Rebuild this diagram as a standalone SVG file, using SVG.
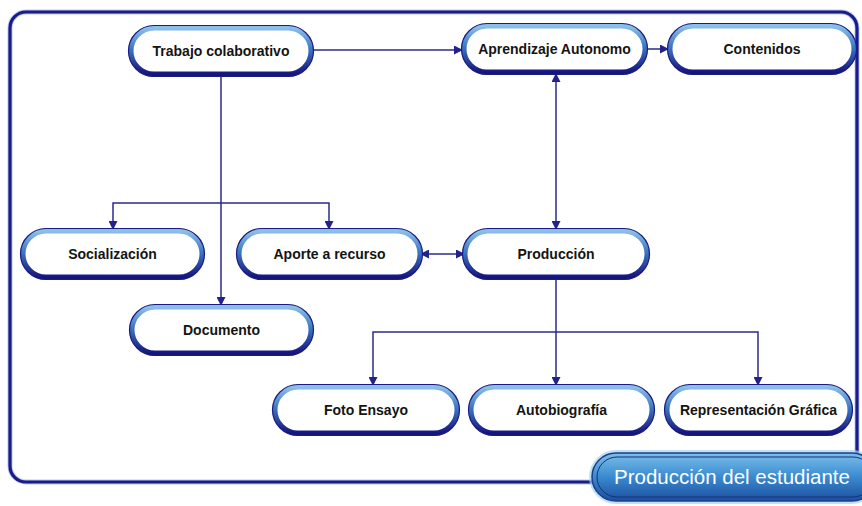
<svg xmlns="http://www.w3.org/2000/svg" width="862" height="506" viewBox="0 0 862 506">
<defs>
<linearGradient id="bord" x1="0" y1="0" x2="0" y2="1">
<stop offset="0" stop-color="#8cc0ea"/>
<stop offset="0.45" stop-color="#3d78c4"/>
<stop offset="1" stop-color="#15157e"/>
</linearGradient>
<linearGradient id="pillFill" x1="0" y1="0" x2="0" y2="1">
<stop offset="0" stop-color="#7cc0ea"/>
<stop offset="0.5" stop-color="#3a8ad0"/>
<stop offset="1" stop-color="#1c4f9e"/>
</linearGradient>
<marker id="arr" viewBox="0 0 10 10" refX="10" refY="5" markerWidth="9" markerHeight="9" markerUnits="userSpaceOnUse" orient="auto-start-reverse">
<path d="M0,0 L10,5 L0,10 z" fill="#22228a"/>
</marker>
<style>
.node rect.b{fill:#ffffff;stroke:url(#bord);stroke-width:5}
.node rect.o{fill:none;stroke:#1a1a80;stroke-width:1.2}
.node text{font-family:"Liberation Sans",Arial,sans-serif;font-weight:bold;font-size:14px;fill:#141414;text-anchor:middle}
.conn path{fill:none;stroke:#2b2b8c;stroke-width:1.5}
</style>
</defs>
<rect width="862" height="506" fill="#ffffff"/>
<g id="frame">
<rect x="10" y="12" width="847" height="470" rx="16" fill="none" stroke="#b8c8f0" stroke-width="5"/>
<rect x="10" y="12" width="847" height="470" rx="16" fill="none" stroke="#1b1b8a" stroke-width="3.2"/>
</g>
<g id="connectors" class="conn">
<path d="M311,50 H463" marker-end="url(#arr)"/>
<path d="M645,49 H669" marker-end="url(#arr)"/>
<path d="M556,73 V230" marker-start="url(#arr)" marker-end="url(#arr)"/>
<path d="M221,74 V306" marker-end="url(#arr)"/>
<path d="M113,230 V203 H329 V230" marker-start="url(#arr)" marker-end="url(#arr)"/>
<path d="M420,254 H465" marker-start="url(#arr)" marker-end="url(#arr)"/>
<path d="M556,277 V386" marker-end="url(#arr)"/>
<path d="M373,386 V332 H758 V386" marker-start="url(#arr)" marker-end="url(#arr)"/>
</g>
<g id="n-trabajo" class="node"><rect class="b" x="131" y="28" width="180" height="46" rx="23"/><rect class="o" x="128.5" y="25.5" width="185" height="51" rx="25.5"/><text x="221" y="56">Trabajo colaborativo</text></g>
<g id="n-aprendizaje" class="node"><rect class="b" x="464" y="26" width="181" height="46" rx="23"/><rect class="o" x="461.5" y="23.5" width="186" height="51" rx="25.5"/><text x="554.5" y="54">Aprendizaje Autonomo</text></g>
<g id="n-contenidos" class="node"><rect class="b" x="670" y="26" width="184" height="46" rx="23"/><rect class="o" x="667.5" y="23.5" width="189" height="51" rx="25.5"/><text x="762" y="54">Contenidos</text></g>
<g id="n-socializacion" class="node"><rect class="b" x="23" y="231" width="179" height="46" rx="23"/><rect class="o" x="20.5" y="228.5" width="184" height="51" rx="25.5"/><text x="112.5" y="259">Socialización</text></g>
<g id="n-aporte" class="node"><rect class="b" x="239" y="231" width="181" height="46" rx="23"/><rect class="o" x="236.5" y="228.5" width="186" height="51" rx="25.5"/><text x="329.5" y="259">Aporte a recurso</text></g>
<g id="n-produccion" class="node"><rect class="b" x="465" y="231" width="182" height="46" rx="23"/><rect class="o" x="462.5" y="228.5" width="187" height="51" rx="25.5"/><text x="556" y="259">Producción</text></g>
<g id="n-documento" class="node"><rect class="b" x="132" y="307" width="179" height="46" rx="23"/><rect class="o" x="129.5" y="304.5" width="184" height="51" rx="25.5"/><text x="221.5" y="335">Documento</text></g>
<g id="n-foto" class="node"><rect class="b" x="275" y="387" width="182" height="46" rx="23"/><rect class="o" x="272.5" y="384.5" width="187" height="51" rx="25.5"/><text x="366" y="415">Foto Ensayo</text></g>
<g id="n-autobiografia" class="node"><rect class="b" x="471" y="387" width="181" height="46" rx="23"/><rect class="o" x="468.5" y="384.5" width="186" height="51" rx="25.5"/><text x="561.5" y="415">Autobiografía</text></g>
<g id="n-representacion" class="node"><rect class="b" x="667" y="387" width="183" height="46" rx="23"/><rect class="o" x="664.5" y="384.5" width="188" height="51" rx="25.5"/><text x="758.5" y="415">Representación Gráfica</text></g>
<g id="n-estudiante">
<rect x="589" y="450" width="290" height="54" rx="27" fill="#a8d2f0" opacity="0.7"/>
<rect x="592" y="453" width="284" height="48" rx="24" fill="url(#pillFill)" stroke="#1a3f8c" stroke-width="1.5"/>
<rect x="597" y="457" width="276" height="40" rx="20" fill="none" stroke="#16307a" stroke-width="1"/>
<text x="732" y="484" font-family="Liberation Sans,Arial,sans-serif" font-size="20.5" fill="#ffffff" text-anchor="middle">Producción del estudiante</text>
</g>
</svg>
